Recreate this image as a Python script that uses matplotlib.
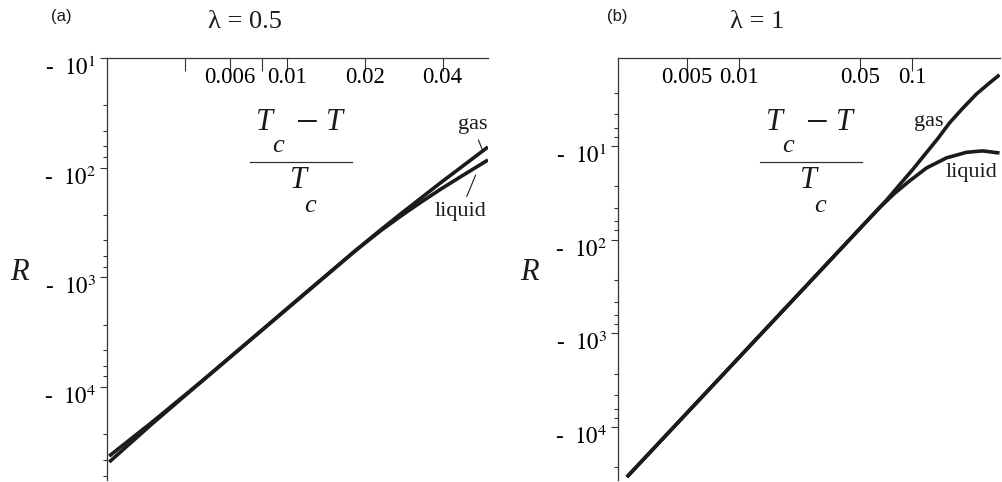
import numpy as np
import matplotlib
matplotlib.use("Agg")
from matplotlib import pyplot as plt
from matplotlib.transforms import ScaledTranslation

plt.rcParams['font.family'] = 'Liberation Serif'
plt.rcParams['mathtext.fontset'] = 'stix'

ink = '#1c1a1b'

## panel (a), lambda = 0.5 : (Tc-T)/Tc and |R|
ta_gas = [0.00204, 0.00298, 0.00466, 0.00726, 0.01132, 0.01846, 0.02307, 0.02755, 0.03291, 0.03932, 0.04697, 0.06]
Ra_gas = [48200, 21800, 8850, 3650, 1500, 565, 367, 263, 190, 137, 100, 64.7]
ta_liq = [0.00204, 0.00298, 0.00466, 0.00726, 0.01132, 0.01846, 0.02307, 0.02755, 0.03291, 0.03932, 0.04697, 0.06]
Ra_liq = [42500, 21000, 8850, 3650, 1500, 565, 374, 276, 207, 157, 121, 85]

## panel (b), lambda = 1
tb_gas = [0.00225, 0.00587, 0.01142, 0.02222, 0.04322, 0.05642, 0.06447, 0.0707, 0.0841, 0.1,
          0.1173, 0.1395, 0.1636, 0.1945, 0.2344, 0.2787, 0.318]
Rb_gas = [34400, 5184, 1394, 375, 100.7, 59.5, 45.8, 38.1, 26.1, 18.0,
          12.5, 8.42, 5.68, 3.98, 2.78, 2.12, 1.74]
tb_liq = [0.00225, 0.00587, 0.01142, 0.02222, 0.04322, 0.05642, 0.06447, 0.0787, 0.0961, 0.1205,
          0.1573, 0.2051, 0.254, 0.318]
Rb_liq = [34400, 5184, 1394, 375, 100.7, 59.5, 45.8, 32.2, 23.7, 17.2,
          13.4, 11.7, 11.3, 11.9]

xt_a = [0.004, 0.006, 0.008, 0.01, 0.02, 0.04]
xl_a = ['', '0.006', '', '0.01', '0.02', '0.04']
xt_b = [0.005, 0.01, 0.05, 0.1]
xl_b = ['0.005', '0.01', '0.05', '0.1']
y_major = [10, 100, 1000, 10000]
y_minor_mult = [2.7, 4.6, 6.4, 8.0]

W, H = 1002, 482
fig = plt.figure(figsize=(W/100, H/100), dpi=100)

def px(x, y):
    return x/W, 1 - y/H

def setup(ax, xlim, ylim, xt, xl, decades):
    ax.set_xscale('log')
    ax.set_yscale('log')
    for s in ('right', 'bottom'):
        ax.spines[s].set_visible(False)
    for s in ('top', 'left'):
        ax.spines[s].set_linewidth(0.9)
        ax.spines[s].set_color('#333333')
    ax.set_xticks(xt)
    ax.set_xticklabels(xl)
    ax.xaxis.set_minor_locator(matplotlib.ticker.NullLocator())
    ax.tick_params(axis='x', which='major', top=True, bottom=False, labeltop=True,
                   labelbottom=False, direction='in', length=9, width=0.8,
                   color='#333333', pad=-21.5, labelsize=16.5)
    ax.set_yticks(y_major)
    ax.set_yticklabels(['-  $10^{%d}$' % k for k in range(1, 5)])
    lo, hi = min(ylim), max(ylim)
    minors = [m*10**k for k in decades for m in y_minor_mult if lo < m*10**k < hi]
    ax.set_yticks(minors, minor=True)
    ax.yaxis.set_minor_formatter(matplotlib.ticker.NullFormatter())
    ax.tick_params(axis='y', which='major', direction='out', length=5, width=0.8,
                   color='#333333', labelsize=16.5, pad=3)
    ax.tick_params(axis='y', which='minor', direction='out', length=3, width=0.8,
                   color='#333333')
    off = ScaledTranslation(0, -8/100, fig.dpi_scale_trans)
    for lab in ax.get_yticklabels():
        lab.set_transform(lab.get_transform() + off)
    ax.set_xlim(*xlim)
    ax.set_ylim(*ylim)
    ax.patch.set_visible(False)

def fraction(dx):
    kw = dict(ha='center', va='center', style='italic', fontsize=22, color=ink)
    fig.text(*px(264+dx, 123), 'T', **kw)
    fig.text(*px(278+dx, 146), 'c', **dict(kw, fontsize=19))
    fig.text(*px(307+dx, 124), '\u2212', ha='center', va='center', fontsize=29, color=ink)
    fig.text(*px(335+dx, 123), 'T', **kw)
    fig.add_artist(plt.Line2D([(250+dx)/W, (352+dx)/W], [1-162/H, 1-162/H],
                              color='#333333', lw=0.9))
    fig.text(*px(299+dx, 181), 'T', **kw)
    fig.text(*px(310+dx, 206), 'c', **dict(kw, fontsize=19))

# (a)
ax1 = fig.add_axes([107/W, 1-479.8/H, (488-107)/W, (479.8-58)/H])
ax1.plot(ta_gas, Ra_gas, color=ink, lw=2.6, solid_capstyle='butt')
ax1.plot(ta_liq, Ra_liq, color=ink, lw=2.6, solid_capstyle='butt')
setup(ax1, (0.002, 0.06), (7e4, 10), xt_a, xl_a, [1, 2, 3, 4])
ax1.annotate('gas', xy=(0.0571, 69), xytext=(0.0522, 40.8), ha='center', va='center',
             fontsize=16, color=ink, arrowprops=dict(arrowstyle='-', lw=0.8, color=ink, shrinkB=0))
ax1.annotate('liquid', xy=(0.0537, 117), xytext=(0.047, 250), ha='center', va='center',
             fontsize=16, color=ink, arrowprops=dict(arrowstyle='-', lw=0.8, color=ink, shrinkB=0))
fraction(0)
fig.text(*px(19, 273), 'R', style='italic', fontsize=22, ha='center', va='center', color=ink)
fig.text(*px(245, 22), '\u03bb = 0.5', fontsize=19, ha='center', va='center', color=ink)
fig.text(*px(61, 17), '(a)', family='Liberation Sans', fontsize=12, ha='center', va='center', color=ink)

# (b)
ax2 = fig.add_axes([618/W, 1-480/H, (1000-618)/W, (480-58)/H])
ax2.plot(tb_gas, Rb_gas, color=ink, lw=2.6, solid_capstyle='butt')
ax2.plot(tb_liq, Rb_liq, color=ink, lw=2.6, solid_capstyle='butt')
setup(ax2, (0.002, 0.32), (3.7e4, 1.15), xt_b, xl_b, [0, 1, 2, 3, 4])
ax2.text(0.1237, 5.55, 'gas', fontsize=16, ha='center', va='center', color=ink)
ax2.text(0.2193, 19.4, 'liquid', fontsize=16, ha='center', va='center', color=ink)
fraction(510)
fig.text(*px(529, 273), 'R', style='italic', fontsize=22, ha='center', va='center', color=ink)
fig.text(*px(757, 22), '\u03bb = 1', fontsize=19, ha='center', va='center', color=ink)
fig.text(*px(617, 17), '(b)', family='Liberation Sans', fontsize=12, ha='center', va='center', color=ink)

fig.savefig('out.png', dpi=100)
